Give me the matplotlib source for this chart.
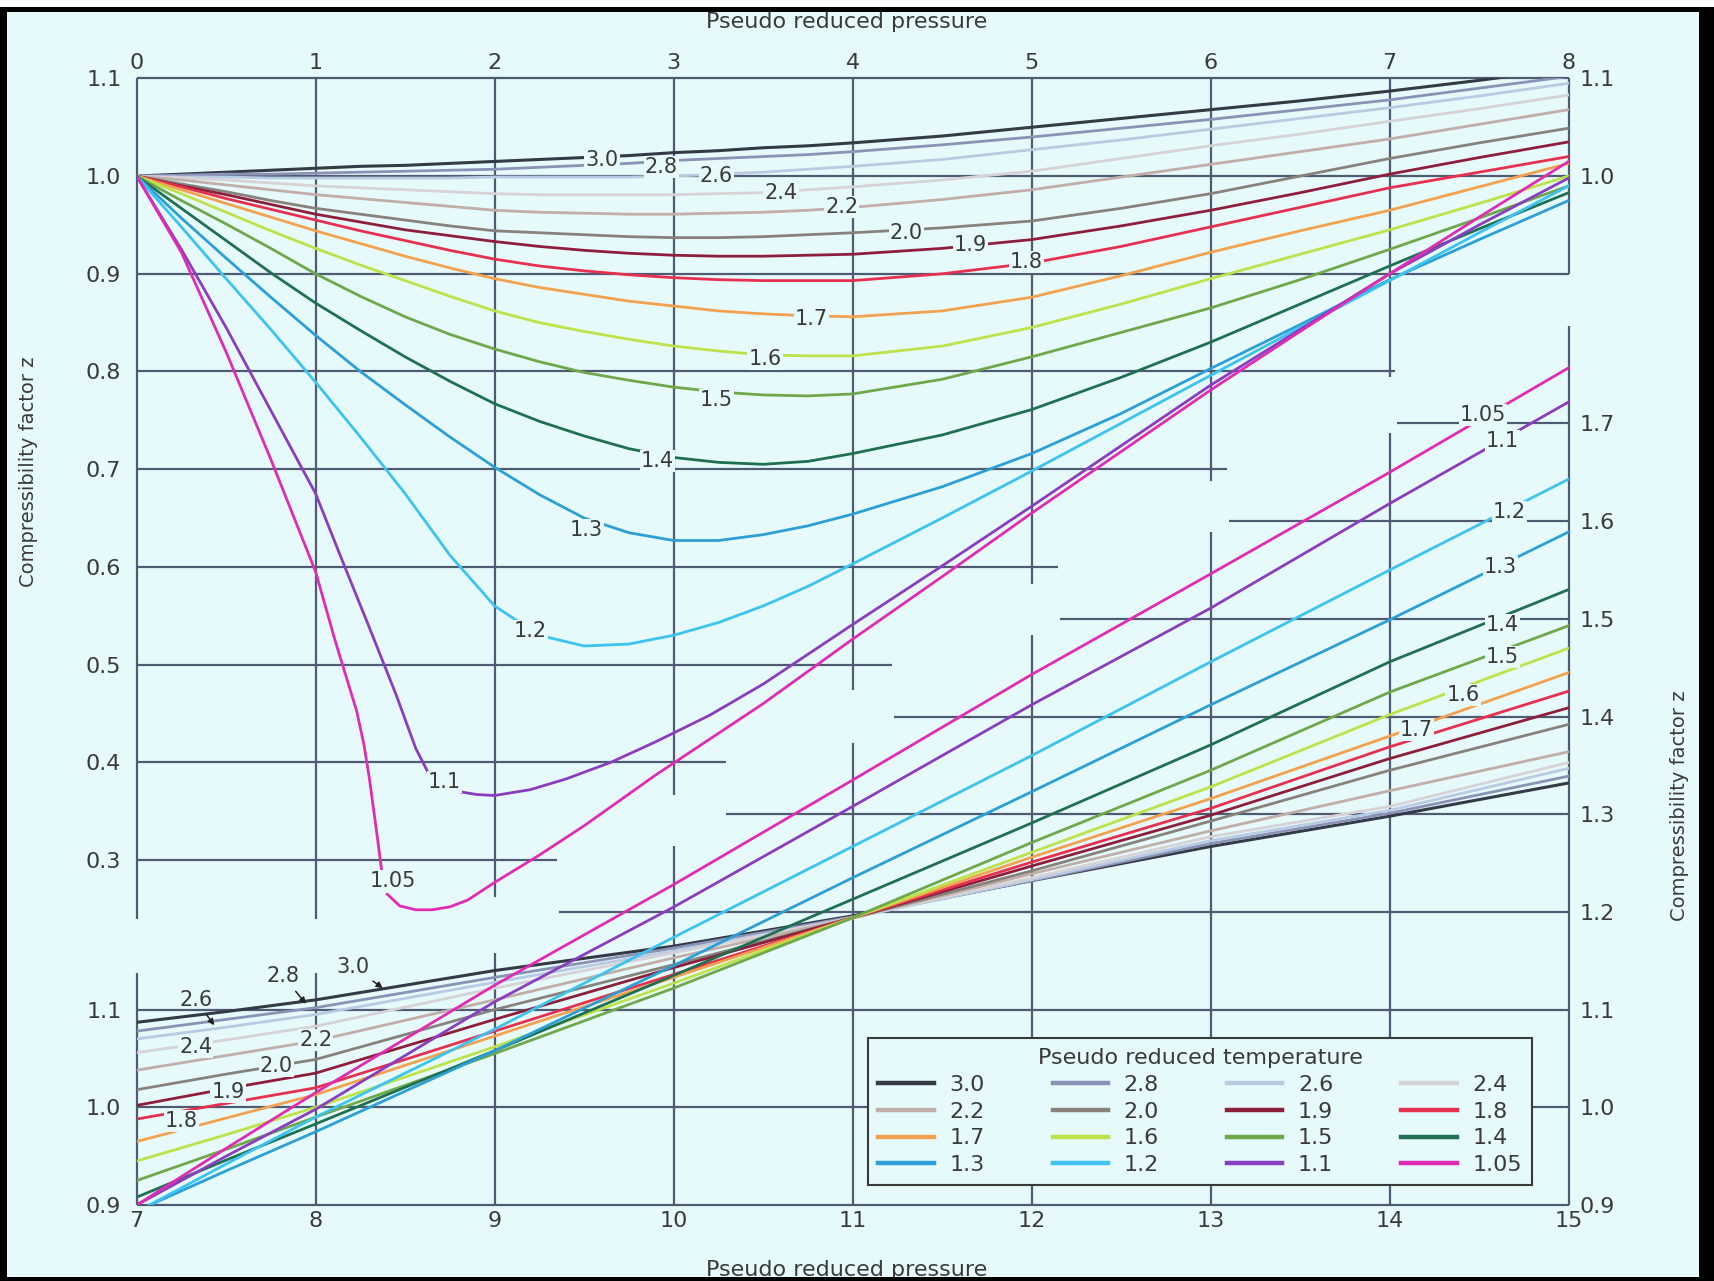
import matplotlib
matplotlib.use("Agg")
import matplotlib.pyplot as plt
from matplotlib.lines import Line2D
from matplotlib.patches import Rectangle

plt.rcParams['font.family'] = ['DejaVu Sans']

BG = '#e6fafb'
GRID = '#4f5b73'
TXT = '#3a3a3a'

# pseudo reduced pressure grid used by most isotherms
p_grid = [0, 0.25, 0.5, 0.75, 1, 1.25, 1.5, 1.75, 2, 2.25, 2.5, 2.75, 3, 3.25, 3.5, 3.75, 4,
          4.5, 5, 5.5, 6, 6.5, 7, 7.5, 8, 9, 10, 11, 12, 13, 14, 15]

z_30 = [1.000, 1.002, 1.004, 1.006, 1.008, 1.010, 1.011, 1.013, 1.015, 1.017, 1.019, 1.021, 1.024,
        1.026, 1.029, 1.031, 1.034, 1.041, 1.050, 1.059, 1.068, 1.077, 1.087, 1.098, 1.110,
        1.140, 1.165, 1.196, 1.232, 1.267, 1.298, 1.332]
z_28 = [1.000, 1.001, 1.002, 1.002, 1.003, 1.004, 1.005, 1.006, 1.007, 1.009, 1.011, 1.013, 1.016,
        1.018, 1.020, 1.022, 1.025, 1.032, 1.040, 1.049, 1.058, 1.068, 1.078, 1.090, 1.102,
        1.133, 1.163, 1.195, 1.232, 1.270, 1.301, 1.339]
z_26 = [1.000, 0.999, 0.999, 0.998, 0.998, 0.998, 0.998, 0.998, 0.999, 0.999, 0.999, 0.999, 1.000,
        1.002, 1.004, 1.007, 1.010, 1.017, 1.027, 1.037, 1.048, 1.059, 1.070, 1.082, 1.095,
        1.128, 1.160, 1.194, 1.233, 1.273, 1.304, 1.347]
z_24 = [1.000, 0.998, 0.996, 0.993, 0.990, 0.988, 0.986, 0.984, 0.982, 0.981, 0.981, 0.981, 0.981,
        0.982, 0.983, 0.986, 0.989, 0.996, 1.005, 1.018, 1.031, 1.043, 1.056, 1.069, 1.083,
        1.122, 1.158, 1.194, 1.235, 1.277, 1.308, 1.353]
z_22 = [1.000, 0.996, 0.991, 0.986, 0.981, 0.977, 0.973, 0.969, 0.965, 0.963, 0.962, 0.961, 0.961,
        0.962, 0.963, 0.965, 0.968, 0.976, 0.986, 0.999, 1.012, 1.025, 1.038, 1.053, 1.068,
        1.110, 1.153, 1.194, 1.239, 1.283, 1.324, 1.364]
z_20 = [1.000, 0.992, 0.984, 0.975, 0.967, 0.961, 0.955, 0.949, 0.944, 0.942, 0.940, 0.938, 0.937,
        0.937, 0.938, 0.940, 0.942, 0.947, 0.954, 0.967, 0.982, 1.000, 1.018, 1.034, 1.049,
        1.100, 1.146, 1.194, 1.242, 1.293, 1.345, 1.392]
z_19 = [1.000, 0.990, 0.981, 0.971, 0.961, 0.953, 0.945, 0.939, 0.933, 0.928, 0.924, 0.921, 0.919,
        0.918, 0.918, 0.919, 0.920, 0.926, 0.935, 0.949, 0.965, 0.983, 1.002, 1.019, 1.035,
        1.090, 1.143, 1.194, 1.247, 1.299, 1.357, 1.409]
z_18 = [1.000, 0.989, 0.977, 0.966, 0.955, 0.944, 0.934, 0.924, 0.915, 0.908, 0.903, 0.899, 0.896,
        0.894, 0.893, 0.893, 0.893, 0.900, 0.911, 0.928, 0.948, 0.968, 0.988, 1.004, 1.020,
        1.078, 1.136, 1.194, 1.251, 1.306, 1.369, 1.426]
z_17 = [1.000, 0.986, 0.972, 0.958, 0.944, 0.931, 0.918, 0.906, 0.895, 0.886, 0.879, 0.872, 0.867,
        0.862, 0.859, 0.857, 0.856, 0.862, 0.876, 0.898, 0.922, 0.944, 0.965, 0.989, 1.013,
        1.073, 1.133, 1.194, 1.256, 1.316, 1.380, 1.445]
z_16 = [1.000, 0.982, 0.963, 0.944, 0.926, 0.909, 0.893, 0.877, 0.862, 0.850, 0.841, 0.833, 0.826,
        0.821, 0.817, 0.816, 0.816, 0.826, 0.845, 0.869, 0.895, 0.920, 0.945, 0.972, 1.000,
        1.062, 1.127, 1.194, 1.261, 1.328, 1.402, 1.470]
z_15 = [1.000, 0.975, 0.951, 0.926, 0.900, 0.877, 0.856, 0.838, 0.823, 0.810, 0.799, 0.791, 0.784,
        0.779, 0.776, 0.775, 0.777, 0.792, 0.815, 0.840, 0.865, 0.894, 0.925, 0.957, 0.990,
        1.055, 1.122, 1.194, 1.271, 1.345, 1.425, 1.493]
z_14 = [1.000, 0.967, 0.934, 0.901, 0.870, 0.842, 0.815, 0.790, 0.767, 0.749, 0.734, 0.721, 0.712,
        0.707, 0.705, 0.708, 0.716, 0.735, 0.761, 0.794, 0.830, 0.869, 0.908, 0.946, 0.983,
        1.058, 1.135, 1.213, 1.291, 1.371, 1.456, 1.530]
z_13 = [1.000, 0.957, 0.916, 0.876, 0.837, 0.800, 0.766, 0.733, 0.702, 0.674, 0.650, 0.635, 0.627,
        0.627, 0.633, 0.642, 0.654, 0.682, 0.716, 0.757, 0.803, 0.848, 0.894, 0.935, 0.975,
        1.058, 1.145, 1.235, 1.323, 1.412, 1.499, 1.589]
z_12 = [1.000, 0.948, 0.895, 0.843, 0.789, 0.733, 0.675, 0.612, 0.560, 0.530, 0.519, 0.521, 0.530,
        0.543, 0.560, 0.580, 0.603, 0.650, 0.698, 0.747, 0.796, 0.845, 0.893, 0.942, 0.990,
        1.080, 1.174, 1.267, 1.360, 1.456, 1.550, 1.643]

p_11 = [0, 0.25, 0.5, 0.75, 1.0, 1.15, 1.3, 1.45, 1.56, 1.63, 1.72, 1.8, 1.9, 2.0, 2.2, 2.4,
        2.65, 2.9, 3.2, 3.5, 4, 4.5, 5, 5.5, 6, 6.5, 7, 7.5, 8, 9, 10, 11, 12, 13, 14, 15]
z_11 = [1.000, 0.925, 0.845, 0.760, 0.675, 0.606, 0.538, 0.469, 0.414, 0.389, 0.376, 0.370,
        0.367, 0.366, 0.372, 0.383, 0.400, 0.421, 0.448, 0.480, 0.541, 0.601, 0.662, 0.724,
        0.786, 0.843, 0.900, 0.950, 0.998, 1.108, 1.205, 1.308, 1.412, 1.511, 1.618, 1.722]

p_105 = [0, 0.25, 0.5, 0.75, 1.0, 1.11, 1.23, 1.27, 1.30, 1.34, 1.37, 1.40, 1.47, 1.56, 1.65,
         1.75, 1.85, 2.0, 2.25, 2.5, 2.9, 3.5, 4, 4.5, 5, 5.5, 6, 6.5, 7, 7.5, 8, 9, 10, 11, 12,
         13, 14, 15]
z_105 = [1.000, 0.922, 0.820, 0.710, 0.595, 0.524, 0.452, 0.418, 0.384, 0.330, 0.288, 0.265,
         0.253, 0.249, 0.249, 0.252, 0.259, 0.277, 0.305, 0.335, 0.387, 0.460, 0.526, 0.590,
         0.655, 0.718, 0.781, 0.841, 0.900, 0.958, 1.015, 1.125, 1.228, 1.335, 1.443, 1.546,
         1.650, 1.757]

temps = ['3.0', '2.8', '2.6', '2.4', '2.2', '2.0', '1.9', '1.8',
         '1.7', '1.6', '1.5', '1.4', '1.3', '1.2', '1.1', '1.05']
colors = ['#343a46', '#8a93b5', '#b9cbe3', '#d6d2d6', '#c1aea8', '#87827c', '#8e1f3c', '#e6304f',
          '#f2a24e', '#bde24a', '#6fa84a', '#1f7052', '#2c9fd6', '#3cc3ef', '#8a3dbf', '#e02cb5']
curves = [(p_grid, z_30), (p_grid, z_28), (p_grid, z_26), (p_grid, z_24), (p_grid, z_22),
          (p_grid, z_20), (p_grid, z_19), (p_grid, z_18), (p_grid, z_17), (p_grid, z_16),
          (p_grid, z_15), (p_grid, z_14), (p_grid, z_13), (p_grid, z_12), (p_11, z_11),
          (p_105, z_105)]

# curve labels, upper chart (same order as temps)
lab_up_x = [2.60, 2.93, 3.24, 3.60, 3.94, 4.30, 4.66, 4.97, 3.77, 3.51, 3.24, 2.91, 2.51, 2.20, 1.72, 1.43]
lab_up_z = [1.016, 1.009, 1.000, 0.983, 0.968, 0.942, 0.929, 0.912, 0.854, 0.813, 0.771, 0.708,
            0.638, 0.534, 0.380, 0.278]
# curve labels, lower chart
lab_lo_t = ['1.05', '1.1', '1.2', '1.3', '1.4', '1.5', '1.6', '1.7', '2.4', '2.2', '2.0', '1.9', '1.8']
lab_lo_x = [14.52, 14.63, 14.67, 14.62, 14.63, 14.63, 14.41, 14.15, 7.33, 8.00, 7.78, 7.51, 7.25]
lab_lo_z = [1.709, 1.682, 1.609, 1.553, 1.494, 1.461, 1.422, 1.386, 1.062, 1.069, 1.042, 1.016, 0.986]
# labels with arrows (text position, arrow tip)
arr_t = ['3.0', '2.8', '2.6']
arr_text = [(8.21, 1.144), (7.82, 1.134), (7.33, 1.110)]
arr_tip = [(8.375, 1.122), (7.946, 1.106), (7.434, 1.084)]

# staircase grid
up_vx = [0, 1, 2, 3, 4, 5, 6, 7, 8]
up_v_bot = [0.240, 0.240, 0.262, 0.367, 0.474, 0.582, 0.688, 0.794, 0.900]
up_hy = [1.1, 1.0, 0.9, 0.8, 0.7, 0.6, 0.5, 0.4, 0.3]
up_h_end = [8, 8, 8, 7.03, 6.09, 5.15, 4.22, 3.29, 2.35]
lo_vx = [7, 8, 9, 10, 11, 12, 13, 14, 15]
lo_v_top = [1.137, 1.137, 1.158, 1.267, 1.373, 1.483, 1.589, 1.690, 1.800]
lo_hy = [0.9, 1.0, 1.1, 1.2, 1.3, 1.4, 1.5, 1.6, 1.7]
lo_h_start = [7, 7, 7, 9.36, 10.29, 11.23, 12.16, 13.10, 14.04]

up_left_ticks = [0.3, 0.4, 0.5, 0.6, 0.7, 0.8, 0.9, 1.0, 1.1]
up_right_ticks = [1.0, 1.1]
lo_left_ticks = [0.9, 1.0, 1.1]
lo_right_ticks = [0.9, 1.0, 1.1, 1.2, 1.3, 1.4, 1.5, 1.6, 1.7]

fig = plt.figure(figsize=(17.14, 12.81), dpi=100)
fig.patch.set_facecolor('black')
fig.add_artist(Rectangle((0, 0.99454), 1, 0.006, transform=fig.transFigure,
                         fc='white', ec='none', zorder=-2))
fig.add_artist(Rectangle((0.00408, 0.00312), 0.98717, 0.98751, transform=fig.transFigure,
                         fc=BG, ec='none', zorder=-1))

rect = [0.0797, 0.0593, 0.8355, 0.8795]
SPAN = 1.1532

ax_up = fig.add_axes(rect, facecolor='none')
ax_up.set_xlim(0, 8)
ax_up.set_ylim(1.1 - SPAN, 1.1)
ax_lo = fig.add_axes(rect, facecolor='none')
ax_lo.set_xlim(7, 15)
ax_lo.set_ylim(0.9, 0.9 + SPAN)
ax_ur = fig.add_axes(rect, facecolor='none')
ax_ur.set_ylim(1.1 - SPAN, 1.1)
ax_ll = fig.add_axes(rect, facecolor='none')
ax_ll.set_ylim(0.9, 0.9 + SPAN)

for ax in (ax_up, ax_lo, ax_ur, ax_ll):
    for s in ax.spines.values():
        s.set_visible(False)
    ax.tick_params(length=0, labelsize=16, labelcolor=TXT)

# grid
ax_up.vlines(up_vx, up_v_bot, 1.1, colors=GRID, lw=1.6, zorder=1, clip_on=False)
ax_up.hlines(up_hy, 0, up_h_end, colors=GRID, lw=1.6, zorder=1, clip_on=False)
ax_lo.vlines(lo_vx, 0.9, lo_v_top, colors=GRID, lw=1.6, zorder=1, clip_on=False)
ax_lo.hlines(lo_hy, lo_h_start, 15, colors=GRID, lw=1.6, zorder=1, clip_on=False)

# isotherms
for (p, z), c, t in zip(curves, colors, temps):
    lw = 2.2 if t == '3.0' else 2.0
    ax_up.plot(p, z, color=c, lw=lw, zorder=2, solid_joinstyle='round')
    ax_lo.plot(p, z, color=c, lw=lw, zorder=2, solid_joinstyle='round')

lab_box = dict(boxstyle='square,pad=0.05', fc=BG, ec='none')
for t, x, z in zip(temps, lab_up_x, lab_up_z):
    ax_up.text(x, z, t, ha='center', va='center', fontsize=15, color=TXT, bbox=lab_box, zorder=4)
for t, x, z in zip(lab_lo_t, lab_lo_x, lab_lo_z):
    ax_lo.text(x, z, t, ha='center', va='center', fontsize=15, color=TXT, bbox=lab_box, zorder=4)
for t, xy_t, xy_a in zip(arr_t, arr_text, arr_tip):
    ax_lo.annotate(t, xy=xy_a, xytext=xy_t, ha='center', va='center', fontsize=15, color=TXT,
                   zorder=4,
                   arrowprops=dict(arrowstyle='-|>', color='#222222', lw=1.1, mutation_scale=9,
                                   shrinkA=2, shrinkB=0))

# ticks
ax_up.xaxis.tick_top()
ax_up.set_xticks(up_vx)
ax_up.set_xticklabels([str(v) for v in up_vx])
ax_up.tick_params(axis='x', pad=4)
ax_up.set_yticks(up_left_ticks)
ax_up.set_yticklabels(['%.1f' % v for v in up_left_ticks])
ax_up.tick_params(axis='y', pad=11)

ax_lo.set_xticks(lo_vx)
ax_lo.set_xticklabels([str(v) for v in lo_vx])
ax_lo.tick_params(axis='x', pad=4)
ax_lo.yaxis.tick_right()
ax_lo.set_yticks(lo_right_ticks)
ax_lo.set_yticklabels(['%.1f' % v for v in lo_right_ticks])
ax_lo.tick_params(axis='y', pad=8)

ax_ur.xaxis.set_visible(False)
ax_ur.yaxis.tick_right()
ax_ur.set_yticks(up_right_ticks)
ax_ur.set_yticklabels(['%.1f' % v for v in up_right_ticks])
ax_ur.tick_params(axis='y', pad=8)

ax_ll.xaxis.set_visible(False)
ax_ll.yaxis.tick_left()
ax_ll.set_yticks(lo_left_ticks)
ax_ll.set_yticklabels(['%.1f' % v for v in lo_left_ticks])
ax_ll.tick_params(axis='y', pad=11)

# legend, filled row by row
handles = [Line2D([], [], color=c, lw=3.2) for c in colors]
order = [0, 4, 8, 12, 1, 5, 9, 13, 2, 6, 10, 14, 3, 7, 11, 15]
leg = ax_lo.legend([handles[i] for i in order], [temps[i] for i in order], ncol=4,
                   loc='upper left', bbox_to_anchor=(0.511, 0.148), borderaxespad=0,
                   title='Pseudo reduced temperature', fontsize=16, title_fontsize=16,
                   fancybox=False, framealpha=1, facecolor=BG, edgecolor='#3a3a3a',
                   handlelength=2.5, handletextpad=0.7, columnspacing=3.05,
                   labelspacing=0.3, borderpad=0.45)
leg.get_frame().set_linewidth(1.5)
for txt in leg.get_texts():
    txt.set_color(TXT)
leg.get_title().set_color(TXT)
leg.set_zorder(5)

# axis titles
fig.text(0.494, 1 - 22 / 1281, 'Pseudo reduced pressure', ha='center', va='center',
         fontsize=16, color=TXT)
fig.text(0.494, 5 / 1281, 'Pseudo reduced pressure', ha='center', va='baseline',
         fontsize=16, color=TXT)
fig.text(0.0165, 0.632, 'Compressibility factor z', rotation=90, ha='center', va='center',
         fontsize=14, color=TXT)
fig.text(0.980, 0.371, 'Compressibility factor z', rotation=90, ha='center', va='center',
         fontsize=14, color=TXT)
fig.add_artist(Rectangle((0, 0), 1, 0.00312, transform=fig.transFigure,
                         fc='black', ec='none', zorder=10))

fig.savefig('out.png', dpi=100, facecolor=fig.get_facecolor())
